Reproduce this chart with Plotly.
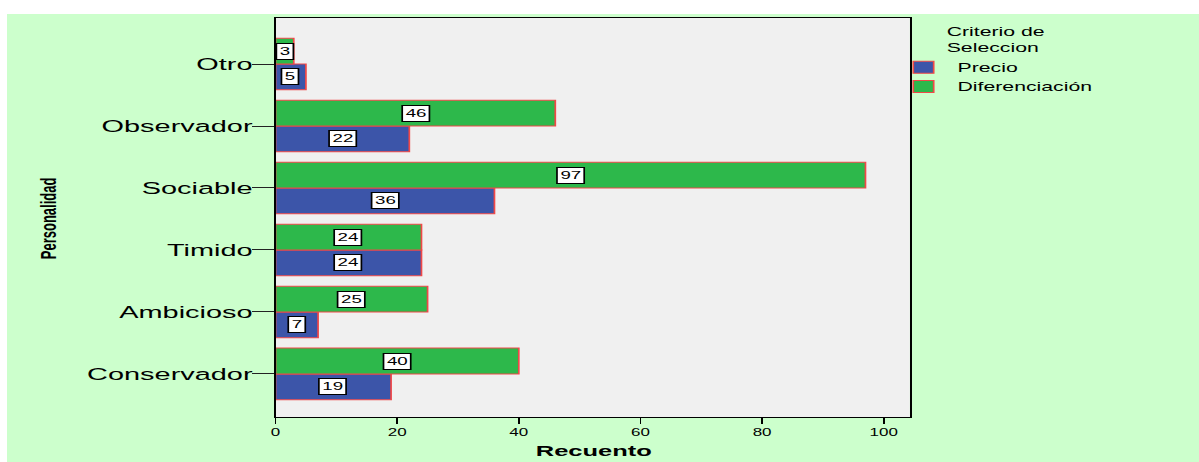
import plotly.graph_objects as go

# Counts per personality type, split by selection criterion
personalidad = ["Conservador", "Ambicioso", "Timido", "Sociable", "Observador", "Otro"]
precio = [19, 7, 24, 36, 22, 5]
diferenciacion = [40, 25, 24, 97, 46, 3]
x_ticks = [0, 20, 40, 60, 80, 100]

# The chart is laid out on a narrow canvas and widened horizontally on the page
PAGE_W = 1199
W, H = 705, 462
STRETCH = PAGE_W / W
M = dict(l=162, r=170, t=18, b=45)
BARGAP = 0.166
FONT = "Liberation Sans, Arial, sans-serif"
EDGE = "#f04848"

fig = go.Figure()
fig.add_bar(
    name="Precio", y=personalidad, x=precio, orientation="h",
    marker=dict(color="#3c55a9", line=dict(color=EDGE, width=1)),
)
fig.add_bar(
    name="Diferenciación", y=personalidad, x=diferenciacion, orientation="h",
    marker=dict(color="#2db84b", line=dict(color=EDGE, width=1)),
)

# Boxed value labels centred on each bar
half = (1 - BARGAP) / 4
for i, cat in enumerate(personalidad):
    for val, off in ((precio[i], -half), (diferenciacion[i], half)):
        fig.add_annotation(
            x=val / 2, y=i + off, xref="x", yref="y", text=str(val),
            showarrow=False, bgcolor="white", bordercolor="black",
            borderwidth=1, borderpad=1.5,
            font=dict(size=11, color="black", family=FONT),
        )

pw = W - M["l"] - M["r"]
ph = H - M["t"] - M["b"]


def paper_x(px):
    return (px - M["l"]) / pw


def paper_y(py):
    return (H - M["b"] - py) / ph


# Axis titles
fig.add_annotation(
    text="<b>Recuento</b>", xref="paper", yref="paper", x=0.5, y=paper_y(451),
    xanchor="center", yanchor="middle", showarrow=False,
    font=dict(size=15, color="black", family=FONT),
)
fig.add_annotation(
    text="<b>Personalidad</b>", xref="paper", yref="paper",
    x=paper_x(48 / STRETCH), y=paper_y(218), textangle=-90,
    xanchor="center", yanchor="middle", showarrow=False,
    font=dict(size=13, color="black", family=FONT),
)

# White page border on the left and top of the green panel
fig.add_shape(
    type="rect", xref="paper", yref="paper", layer="above",
    x0=paper_x(0), x1=paper_x(7 / STRETCH), y0=paper_y(H), y1=paper_y(0),
    fillcolor="white", line=dict(width=0),
)
fig.add_shape(
    type="rect", xref="paper", yref="paper", layer="above",
    x0=paper_x(0), x1=paper_x(W), y0=paper_y(14), y1=paper_y(0),
    fillcolor="white", line=dict(width=0),
)

fig.update_layout(
    width=W, height=H, margin=M,
    barmode="group", bargap=BARGAP, bargroupgap=0,
    paper_bgcolor="#ccffcc", plot_bgcolor="#f0f0f0",
    font=dict(family=FONT, color="black"),
    xaxis=dict(
        range=[0, 104.3], tickvals=x_ticks, ticks="outside", ticklen=6,
        tickcolor="black", tickfont=dict(size=10), showgrid=False,
        zeroline=False, showline=True, linecolor="black", linewidth=1.2,
        mirror=True, automargin=False,
    ),
    yaxis=dict(
        type="category", categoryorder="array", categoryarray=personalidad,
        range=[-0.694, 5.742], ticks="outside", ticklen=13, tickcolor="#222",
        tickfont=dict(size=17), ticklabelstandoff=-4, showgrid=False,
        showline=True, linecolor="black", linewidth=1.2, mirror=True,
        automargin=False,
    ),
    legend=dict(
        title=dict(text="Criterio de<br>Seleccion", side="top center",
                   font=dict(size=12.5)),
        font=dict(size=12.5), x=paper_x(523), xanchor="left",
        y=paper_y(20), yanchor="top", bgcolor="rgba(0,0,0,0)",
        traceorder="normal",
    ),
    showlegend=True,
)

widen = (
    "var gd=document.getElementById('{plot_id}');"
    "gd.style.transformOrigin='0 0';"
    "gd.style.transform='scaleX(%.5f)';" % STRETCH
)
fig.write_html("out.html", post_script=widen, config=dict(displayModeBar=False))
